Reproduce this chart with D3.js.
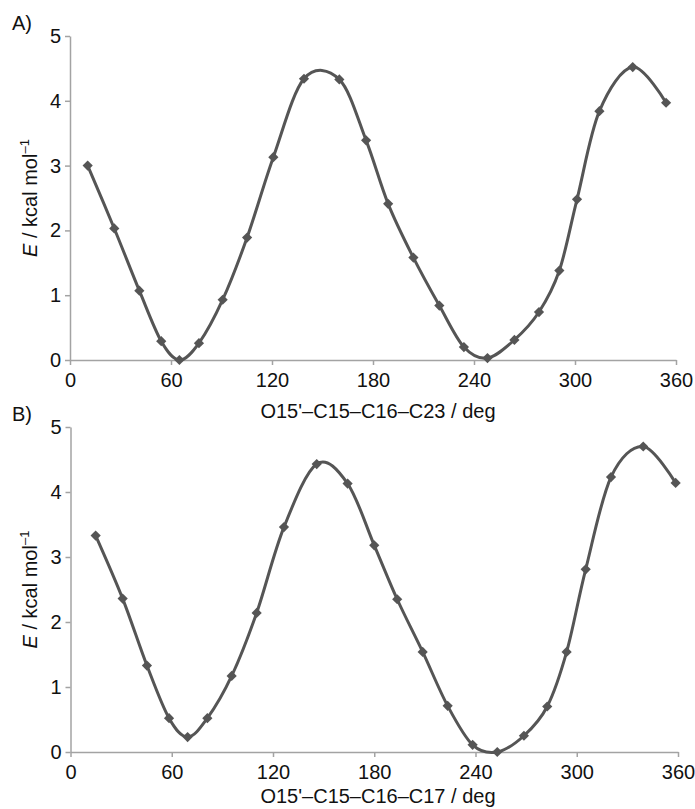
<!DOCTYPE html>
<html>
<head>
<meta charset="utf-8">
<script src="https://cdn.jsdelivr.net/npm/d3@7"></script>
<style>
  html, body { margin: 0; padding: 0; background: #fff; }
  svg { display: block; font-family: "Liberation Sans", Arial, sans-serif; }
</style>
</head>
<body>
<svg id="chart" width="695" height="809"></svg>
<script>
// ---- Data ----
const xTicks = [0, 60, 120, 180, 240, 300, 360];
const yTicks = [0, 1, 2, 3, 4, 5];

const angleA = [10.5, 26.3, 41.2, 54.2, 65, 76.6, 90.7, 105.2, 120.8, 139, 160, 175.9,
                189, 204, 219.4, 234, 248, 264, 278.6, 290.7, 301.2, 314.5, 334.3, 354.1];
const energyA = [3.00, 2.03, 1.07, 0.29, 0.00, 0.26, 0.93, 1.89, 3.13, 4.34, 4.33, 3.39,
                 2.41, 1.58, 0.84, 0.20, 0.03, 0.31, 0.74, 1.38, 2.48, 3.84, 4.52, 3.97];

const angleB = [14.9, 30.9, 45.3, 58.4, 69.4, 81.1, 95.5, 110.3, 126.5, 145.9, 164.2, 180,
                193.6, 208.7, 223.5, 238.3, 252.9, 268.7, 282.5, 294, 305.3, 320.3, 339.4, 358.6];
const energyB = [3.33, 2.36, 1.33, 0.52, 0.23, 0.52, 1.17, 2.14, 3.46, 4.43, 4.13, 3.18,
                 2.35, 1.54, 0.71, 0.11, 0.00, 0.25, 0.70, 1.54, 2.81, 4.23, 4.70, 4.14];

const panelLabels = ["A)", "B)"];
const xTitles = ["O15'\u2013C15\u2013C16\u2013C23 / deg", "O15'\u2013C15\u2013C16\u2013C17 / deg"];

// ---- Layout ----
const panels = [
  { label: panelLabels[0], xt: xTitles[0], ang: angleA, en: energyA,
    x0: 70, x1: 676, yTop: 36, yBot: 360, labelY: 30, titleY: 418 },
  { label: panelLabels[1], xt: xTitles[1], ang: angleB, en: energyB,
    x0: 70.5, x1: 678, yTop: 427, yBot: 752, labelY: 421, titleY: 803 }
];

const svg = d3.select("#chart");
const lineColor = "#555555";
const axisColor = "#a3a3a3";

panels.forEach(p => {
  const x = d3.scaleLinear().domain([0, 360]).range([p.x0, p.x1]);
  const y = d3.scaleLinear().domain([0, 5]).range([p.yBot, p.yTop]);
  const g = svg.append("g");

  // axes
  const xAxis = d3.axisBottom(x).tickValues(xTicks).tickFormat(d3.format("d"))
    .tickSizeInner(5).tickSizeOuter(0).tickPadding(8);
  const yAxis = d3.axisLeft(y).tickValues(yTicks).tickFormat(d3.format("d"))
    .tickSizeInner(5).tickSizeOuter(0).tickPadding(4);

  const gx = g.append("g").attr("transform", `translate(0,${p.yBot})`).call(xAxis);
  const gy = g.append("g").attr("transform", `translate(${p.x0},0)`).call(yAxis);
  [gx, gy].forEach(a => {
    a.select(".domain").attr("stroke", axisColor).attr("stroke-width", 1.5);
    a.selectAll(".tick line").attr("stroke", axisColor).attr("stroke-width", 1.5);
    a.selectAll(".tick text").attr("fill", "#111").style("font-size", "20px")
      .style("font-family", "'Liberation Sans', Arial, sans-serif");
  });

  // data
  const data = p.ang.map((a, i) => ({ a, e: p.en[i] }));
  const line = d3.line().x(d => x(d.a)).y(d => y(d.e)).curve(d3.curveCatmullRom.alpha(0));
  g.append("path").datum(data).attr("d", line)
    .attr("fill", "none").attr("stroke", lineColor).attr("stroke-width", 3)
    .attr("stroke-linejoin", "round");

  const sym = d3.symbol().type(d3.symbolSquare).size(52);
  g.selectAll(".pt").data(data).enter().append("path")
    .attr("class", "pt")
    .attr("d", sym)
    .attr("transform", d => `translate(${x(d.a)},${y(d.e)}) rotate(45)`)
    .attr("fill", lineColor);

  // panel label
  g.append("text").attr("x", 12).attr("y", p.labelY).text(p.label)
    .style("font-size", "20px").attr("fill", "#111");

  // x title
  g.append("text").attr("x", 378).attr("y", p.titleY).attr("text-anchor", "middle")
    .style("font-size", "20px").attr("fill", "#111").text(p.xt);

  // y title
  const yc = (p.yTop + p.yBot) / 2;
  const yt = g.append("text")
    .attr("transform", `translate(37,${yc}) rotate(-90)`)
    .attr("text-anchor", "middle")
    .style("font-size", "20px").attr("fill", "#111");
  yt.append("tspan").style("font-style", "italic").text("E");
  yt.append("tspan").text(" / kcal mol");
  yt.append("tspan").attr("dy", -8).style("font-size", "13px").text("\u20131");
});
</script>
</body>
</html>
